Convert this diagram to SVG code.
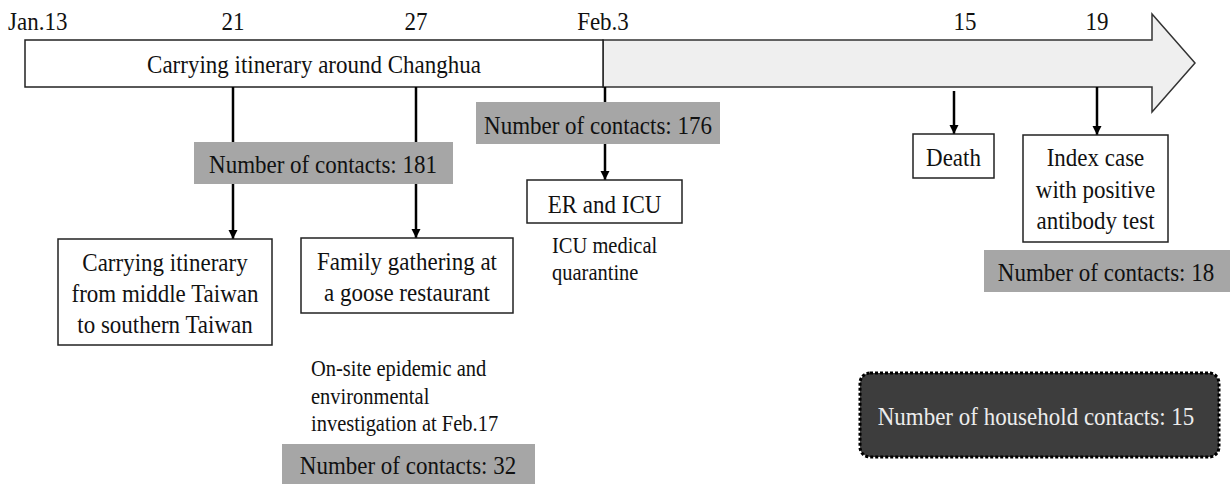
<svg xmlns="http://www.w3.org/2000/svg" width="1230" height="484" viewBox="0 0 1230 484">
  <style>
    text { font-family: "Liberation Serif", "Times New Roman", serif; fill: #111; }
    .lbl { font-size: 23px; }
    .lbl, .note { transform-box: fill-box; transform-origin: center; transform: scaleY(1.12); }
    .c { text-anchor: middle; }
    .note { font-size: 20.5px; }
    .box { fill: #fff; stroke: #222; stroke-width: 1.5; }
    .count { fill: #a6a6a6; }
    .conn { stroke: #000; stroke-width: 2.5; fill: none; }
    .conn-a { stroke: #000; stroke-width: 2.5; fill: none; marker-end: url(#head); }
  </style>
  <defs>
    <marker id="head" viewBox="0 0 10 10" refX="10" refY="5" markerUnits="userSpaceOnUse" markerWidth="9" markerHeight="10" orient="auto">
      <path d="M0,0 L10,5 L0,10 z" fill="#000"/>
    </marker>
  </defs>

  <g id="timeline">
    <polygon points="603,40 1152,40 1152,14 1195,63 1152,112 1152,87 603,87" fill="#efefef" stroke="#333" stroke-width="1.5"/>
    <rect x="25" y="40" width="578" height="47" class="box" stroke-width="2"/>
    <text class="lbl c" x="314" y="72">Carrying itinerary around Changhua</text>
    <text class="lbl" x="8" y="29">Jan.13</text>
    <text class="lbl c" x="233" y="29">21</text>
    <text class="lbl c" x="416" y="29">27</text>
    <text class="lbl c" x="603" y="29">Feb.3</text>
    <text class="lbl c" x="965" y="29">15</text>
    <text class="lbl c" x="1097" y="29">19</text>
  </g>

  <g id="connectors">
    <line class="conn" x1="233" y1="87" x2="233" y2="142"/>
    <line class="conn" x1="416" y1="87" x2="416" y2="142"/>
    <line class="conn-a" x1="233" y1="184" x2="233" y2="239"/>
    <line class="conn-a" x1="416" y1="184" x2="416" y2="238"/>
    <line class="conn" x1="605" y1="87" x2="605" y2="102"/>
    <line class="conn-a" x1="605" y1="144" x2="605" y2="180"/>
    <line class="conn-a" x1="954" y1="91" x2="954" y2="134"/>
    <line class="conn-a" x1="1097" y1="87" x2="1097" y2="135"/>
  </g>

  <g id="contacts-181">
    <rect x="194" y="142" width="259" height="42" class="count"/>
    <text class="lbl c" x="323" y="172">Number of contacts: 181</text>
  </g>

  <g id="contacts-176">
    <rect x="476" y="102" width="244" height="42" class="count"/>
    <text class="lbl c" x="598" y="133">Number of contacts: 176</text>
  </g>

  <g id="itinerary-south">
    <rect x="58" y="239" width="214" height="106" class="box"/>
    <text class="lbl c" x="165" y="270">Carrying itinerary</text>
    <text class="lbl c" x="165" y="301">from middle Taiwan</text>
    <text class="lbl c" x="165" y="332">to southern Taiwan</text>
  </g>

  <g id="family-gathering">
    <rect x="301" y="238" width="212" height="75" class="box"/>
    <text class="lbl c" x="407" y="269">Family gathering at</text>
    <text class="lbl c" x="407" y="300">a goose restaurant</text>
  </g>

  <g id="investigation-note">
    <text class="note" x="311" y="375">On-site epidemic and</text>
    <text class="note" x="311" y="403">environmental</text>
    <text class="note" x="311" y="430">investigation at Feb.17</text>
  </g>

  <g id="contacts-32">
    <rect x="282" y="444" width="253" height="40" class="count"/>
    <text class="lbl c" x="408" y="473">Number of contacts: 32</text>
  </g>

  <g id="er-icu">
    <rect x="527" y="180" width="155" height="43" class="box"/>
    <text class="lbl c" x="604.5" y="212">ER and ICU</text>
  </g>

  <g id="icu-note">
    <text class="note" x="552" y="252">ICU medical</text>
    <text class="note" x="552" y="279">quarantine</text>
  </g>

  <g id="death">
    <rect x="913" y="134" width="81" height="44" class="box"/>
    <text class="lbl c" x="953.5" y="165">Death</text>
  </g>

  <g id="index-case">
    <rect x="1023" y="135" width="145" height="107" class="box"/>
    <text class="lbl c" x="1095.5" y="165">Index case</text>
    <text class="lbl c" x="1095.5" y="197">with positive</text>
    <text class="lbl c" x="1095.5" y="228">antibody test</text>
  </g>

  <g id="contacts-18">
    <rect x="984" y="250" width="246" height="42" class="count"/>
    <text class="lbl c" x="1106" y="280">Number of contacts: 18</text>
  </g>

  <g id="household-contacts">
    <rect x="860" y="373" width="359" height="84" rx="10" ry="10" fill="#3d3d3d" stroke="#000" stroke-width="3" stroke-dasharray="3 2"/>
    <text class="lbl c" x="1036" y="424" style="fill:#ececec">Number of household contacts: 15</text>
  </g>
</svg>
